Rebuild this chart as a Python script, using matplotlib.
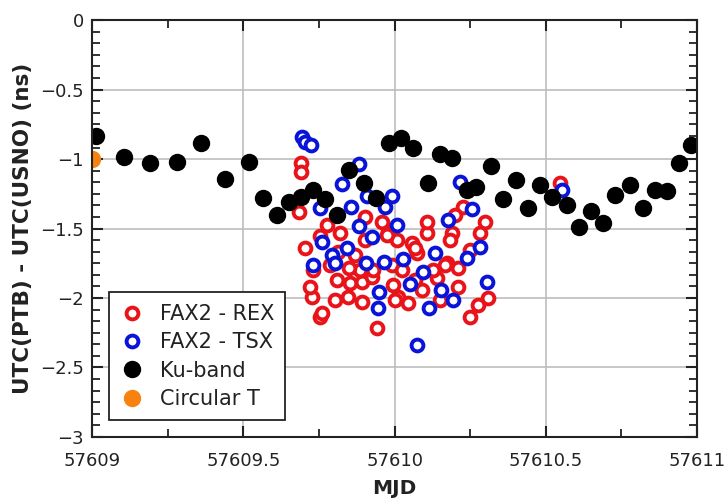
import matplotlib
matplotlib.use("Agg")
import matplotlib.pyplot as plt
from matplotlib.ticker import MultipleLocator, AutoMinorLocator

# FAX2 - REX (open red circles)
rex_mjd = [57609.691, 57609.691, 57610.547, 57609.684, 57609.777, 57609.820, 57609.704,
           57609.813, 57609.869, 57609.731, 57609.810, 57609.853, 57609.893, 57609.926,
           57609.727, 57609.803, 57609.846, 57609.893, 57609.995, 57610.012, 57610.045,
           57610.091, 57609.754, 57609.942, 57609.992, 57610.008, 57610.058, 57610.074,
           57610.107, 57610.107, 57610.190, 57610.183, 57610.226, 57610.200, 57610.299,
           57610.283, 57610.174, 57610.140, 57610.210, 57610.309, 57610.276, 57610.250,
           57610.127, 57610.210, 57609.902, 57609.959, 57609.979, 57609.787, 57609.929,
           57609.886, 57609.721, 57609.975, 57610.068, 57610.167, 57609.754, 57609.902,
           57609.760, 57609.850, 57610.025, 57610.250, 57610.068, 57610.150, 57610.002]
rex_ns = [-1.029, -1.094, -1.173, -1.381, -1.475, -1.532, -1.640,
          -1.669, -1.691, -1.799, -1.871, -1.892, -1.885, -1.849,
          -1.993, -2.014, -1.993, -2.029, -1.906, -1.993, -2.036,
          -1.942, -2.137, -2.216, -1.763, -1.583, -1.604, -1.676,
          -1.532, -1.453, -1.532, -1.583, -1.345, -1.403, -1.453,
          -1.532, -1.748, -1.856, -1.921, -2.000, -2.050, -2.137,
          -1.799, -1.784, -1.417, -1.453, -1.525, -1.763, -1.799,
          -1.799, -1.921, -1.547, -1.640, -1.763, -1.554, -1.583,
          -2.108, -1.784, -1.799, -1.655, -1.871, -2.014, -2.014]

# FAX2 - TSX (open blue circles)
tsx_mjd = [57609.694, 57609.704, 57609.724, 57609.883, 57609.826, 57609.909, 57609.992,
           57609.856, 57609.754, 57609.969, 57610.217, 57610.256, 57610.177, 57609.883,
           57610.008, 57609.926, 57609.760, 57609.843, 57609.793, 57609.803, 57609.731,
           57609.906, 57609.965, 57610.028, 57610.134, 57610.283, 57610.240, 57610.094,
           57610.051, 57609.949, 57610.154, 57610.193, 57610.306, 57610.114, 57609.945,
           57610.074, 57610.554]
tsx_ns = [-0.842, -0.878, -0.899, -1.036, -1.180, -1.266, -1.266,
          -1.345, -1.353, -1.345, -1.165, -1.360, -1.439, -1.482,
          -1.475, -1.561, -1.597, -1.640, -1.691, -1.748, -1.763,
          -1.748, -1.741, -1.719, -1.676, -1.633, -1.712, -1.813,
          -1.899, -1.957, -1.942, -2.014, -1.885, -2.072, -2.072,
          -2.338, -1.223]

# Ku-band (filled black circles)
ku_mjd = [57609.013, 57609.106, 57609.190, 57609.280, 57609.360, 57609.440, 57609.520,
          57609.565, 57609.610, 57609.650, 57609.690, 57609.730, 57609.770, 57609.810,
          57609.850, 57609.900, 57609.940, 57609.980, 57610.020, 57610.060, 57610.110,
          57610.150, 57610.190, 57610.240, 57610.270, 57610.320, 57610.360, 57610.400,
          57610.440, 57610.480, 57610.520, 57610.570, 57610.610, 57610.650, 57610.690,
          57610.730, 57610.780, 57610.820, 57610.860, 57610.900, 57610.940, 57610.980]
ku_ns = [-0.835, -0.986, -1.030, -1.020, -0.885, -1.140, -1.020,
         -1.280, -1.400, -1.310, -1.270, -1.220, -1.290, -1.400,
         -1.080, -1.170, -1.280, -0.885, -0.850, -0.920, -1.170,
         -0.960, -0.990, -1.220, -1.200, -1.050, -1.290, -1.150,
         -1.350, -1.190, -1.270, -1.330, -1.490, -1.370, -1.460,
         -1.260, -1.190, -1.350, -1.220, -1.230, -1.030, -0.900]

# Circular T
cirt_mjd = [57609.0]
cirt_ns = [-1.0]

fig = plt.figure(figsize=(7.26, 5.04), dpi=100)
ax = fig.add_axes([0.127, 0.133, 0.833, 0.827])

ax.plot(rex_mjd, rex_ns, 'o', ls='none', mfc='white', mec='#e8141a', ms=8.5, mew=2.8,
        label='FAX2 - REX')
ax.plot(tsx_mjd, tsx_ns, 'o', ls='none', mfc='white', mec='#0a14d8', ms=8.5, mew=2.8,
        label='FAX2 - TSX')
ax.plot(ku_mjd, ku_ns, 'o', ls='none', color='black', ms=11.5, label='Ku-band')
ax.plot(cirt_mjd, cirt_ns, 'o', ls='none', color='#f7820f', ms=11.5, label='Circular T')

ax.set_xlim(57609, 57611)
ax.set_ylim(-3, 0)
ax.xaxis.set_major_locator(MultipleLocator(0.5))
ax.xaxis.set_minor_locator(AutoMinorLocator(2))
ax.yaxis.set_major_locator(MultipleLocator(0.5))
ax.yaxis.set_minor_locator(AutoMinorLocator(6))
ax.xaxis.set_major_formatter(plt.FuncFormatter(lambda v, p: f'{v:g}'))
ax.yaxis.set_major_formatter(plt.FuncFormatter(lambda v, p: f'{v:g}'.replace('-', '\u2212')))

ax.grid(True, which='major', color='#bdbdbd', lw=1.2)
ax.set_axisbelow(True)
ax.tick_params(which='both', direction='in', top=True, right=True, color='#222222',
               labelsize=13, labelcolor='#222222')
ax.tick_params(axis='x', which='both', pad=11)
ax.tick_params(axis='y', which='both', pad=6)
ax.tick_params(which='major', length=8, width=1.5)
ax.tick_params(which='minor', length=6, width=1.3)
for s in ax.spines.values():
    s.set_color('#222222')
    s.set_linewidth(1.5)

ax.set_xlabel('MJD', fontsize=14.5, fontweight='bold', labelpad=6, color='#222222')
ax.set_ylabel('UTC(PTB) - UTC(USNO) (ns)', fontsize=15.5, fontweight='bold', labelpad=5,
              color='#222222')

leg = ax.legend(loc='lower left', bbox_to_anchor=(0.027, 0.04), fontsize=15,
                fancybox=False, edgecolor='#222222', framealpha=1, borderpad=0.55,
                handletextpad=0.7, labelspacing=0.4, handlelength=1.2, borderaxespad=0)
leg.get_frame().set_linewidth(1.3)
for t in leg.get_texts():
    t.set_color('#222222')

fig.savefig('out.png', dpi=100)
